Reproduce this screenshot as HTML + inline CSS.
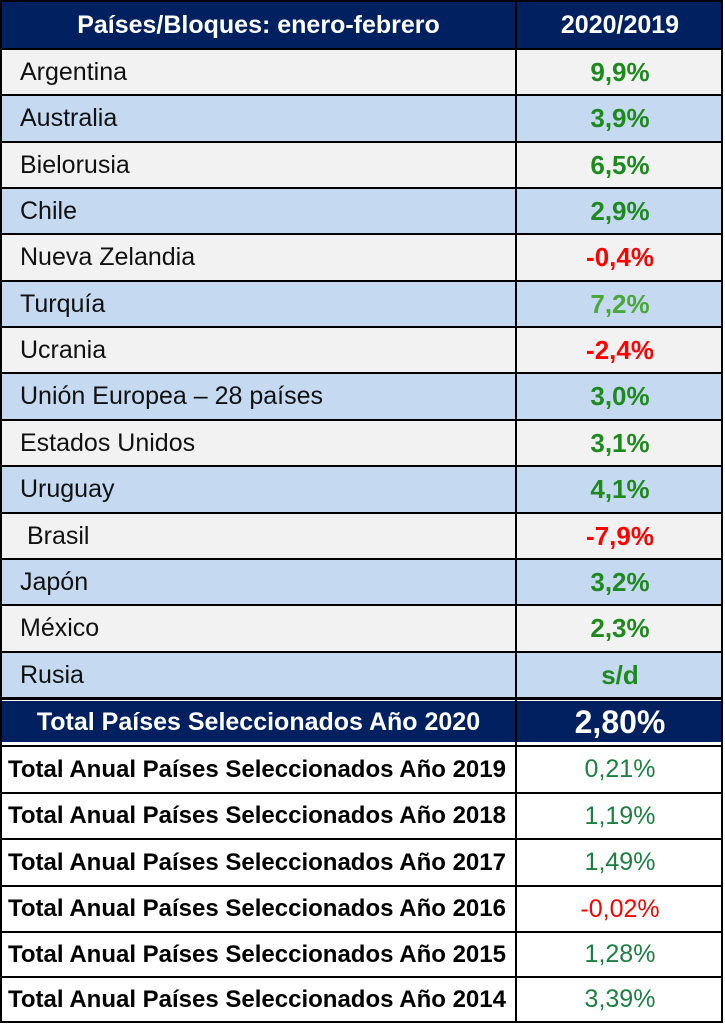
<!DOCTYPE html>
<html><head><meta charset="utf-8"><style>
body{margin:0;width:725px;height:1024px;background:#fff;position:relative;overflow:hidden;font-family:"Liberation Sans",sans-serif;}
.r{position:absolute;left:0;width:723px;border:2px solid #000;border-bottom:none;box-sizing:border-box;}
.c{position:absolute;top:0;bottom:0;display:flex;align-items:center;white-space:nowrap;}
.l{left:0;width:515px;border-right:2px solid #000;padding-left:18px;box-sizing:border-box;font-size:25px;color:#111;}
.v{left:517px;right:0;justify-content:center;font-size:26px;font-weight:bold;}
.g{color:#1e8a1e}.rd{color:#ff0000}.lg{color:#4aa83a}.tg{color:#1c8040}
.h{background:#002060;color:#fff;font-weight:bold;}
.b{background:#c5d9f1}.w{background:#f2f2f2}
.t .l{font-weight:bold;font-size:24px;padding-left:6px;color:#000;}
.t .v{font-weight:normal;font-size:25px}
</style></head><body>
<div class="r h" style="top:0;height:48px;"><div class="c l" style="justify-content:center;padding-left:0;color:#fff;font-weight:bold;">Países/Bloques: enero-febrero</div><div class="c v" style="color:#fff;font-size:25px">2020/2019</div></div>
<div class="r w" style="top:48px;height:46px"><div class="c l">Argentina</div><div class="c v g">9,9%</div></div>
<div class="r b" style="top:94px;height:47px"><div class="c l">Australia</div><div class="c v g">3,9%</div></div>
<div class="r w" style="top:141px;height:46px"><div class="c l">Bielorusia</div><div class="c v g">6,5%</div></div>
<div class="r b" style="top:187px;height:46px"><div class="c l">Chile</div><div class="c v g">2,9%</div></div>
<div class="r w" style="top:233px;height:47px"><div class="c l">Nueva Zelandia</div><div class="c v rd">-0,4%</div></div>
<div class="r b" style="top:280px;height:46px"><div class="c l">Turquía</div><div class="c v lg">7,2%</div></div>
<div class="r w" style="top:326px;height:46px"><div class="c l">Ucrania</div><div class="c v rd">-2,4%</div></div>
<div class="r b" style="top:372px;height:47px"><div class="c l">Unión Europea – 28 países</div><div class="c v g">3,0%</div></div>
<div class="r w" style="top:419px;height:46px"><div class="c l">Estados Unidos</div><div class="c v g">3,1%</div></div>
<div class="r b" style="top:465px;height:47px"><div class="c l">Uruguay</div><div class="c v g">4,1%</div></div>
<div class="r w" style="top:512px;height:46px"><div class="c l">&nbsp;Brasil</div><div class="c v rd">-7,9%</div></div>
<div class="r b" style="top:558px;height:46px"><div class="c l">Japón</div><div class="c v g">3,2%</div></div>
<div class="r w" style="top:604px;height:47px"><div class="c l">México</div><div class="c v g">2,3%</div></div>
<div class="r b" style="top:651px;height:46px"><div class="c l">Rusia</div><div class="c v g">s/d</div></div>
<div class="r" style="top:697px;height:48px;border-width:3px 2px 0 2px;"><div style="position:absolute;left:0;right:0;top:1px;bottom:3px;background:#002060"></div><div class="c l" style="justify-content:center;padding-left:0;color:#fff;font-weight:bold;">Total Países Seleccionados Año 2020</div><div class="c v" style="color:#fff;font-size:32px">2,80%</div></div>
<div class="r t" style="top:745px;height:47px"><div class="c l">Total Anual Países Seleccionados Año 2019</div><div class="c v tg">0,21%</div></div>
<div class="r t" style="top:792px;height:46px"><div class="c l">Total Anual Países Seleccionados Año 2018</div><div class="c v tg">1,19%</div></div>
<div class="r t" style="top:838px;height:47px"><div class="c l">Total Anual Países Seleccionados Año 2017</div><div class="c v tg">1,49%</div></div>
<div class="r t" style="top:885px;height:46px"><div class="c l">Total Anual Países Seleccionados Año 2016</div><div class="c v rd">-0,02%</div></div>
<div class="r t" style="top:931px;height:45px"><div class="c l">Total Anual Países Seleccionados Año 2015</div><div class="c v tg">1,28%</div></div>
<div class="r t" style="top:976px;height:47px;border-bottom:2px solid #000"><div class="c l">Total Anual Países Seleccionados Año 2014</div><div class="c v tg">3,39%</div></div>
</body></html>
